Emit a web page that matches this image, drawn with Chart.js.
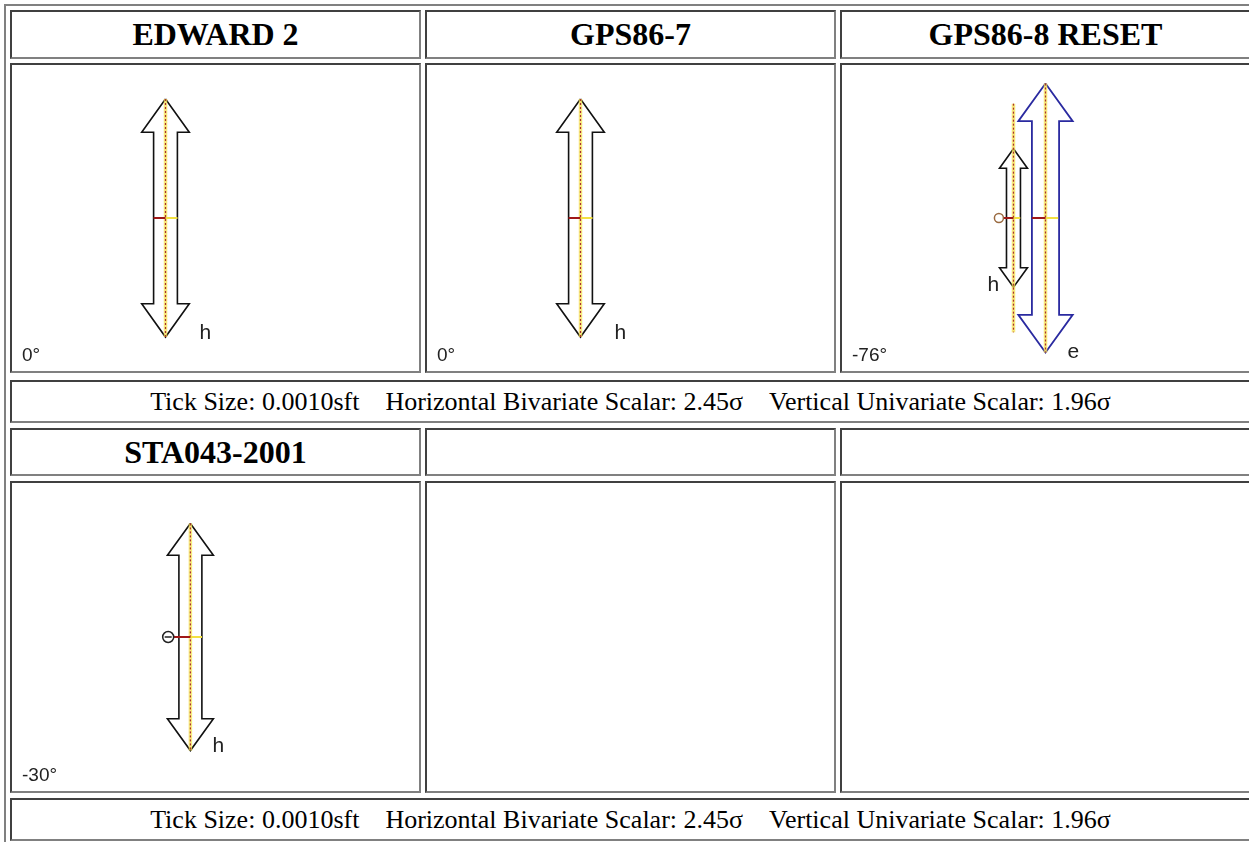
<!DOCTYPE html>
<html>
<head>
<meta charset="utf-8">
<script src="https://cdn.jsdelivr.net/npm/chart.js@4.4.1/dist/chart.umd.min.js"></script>
<style>
body { margin: 0; background: #fff; width: 1249px; height: 842px; overflow: hidden; position: relative; }
.frame { position: absolute; left: 4px; top: 4px; width: 1300px; height: 900px; border-top: 2px solid #808080; border-left: 2px solid #808080; }
.cell { position: absolute; box-sizing: border-box; border: 2px solid; border-color: #404040 #808080 #808080 #404040; overflow: hidden; }
.head { font: bold 32px "Liberation Serif", "Times New Roman", serif; text-align: center; color: #000; }
.cap { font: 26px "Liberation Serif", "Times New Roman", serif; text-align: center; white-space: pre; color: #000; }
.ang { position: absolute; left: 10px; bottom: 5px; font: 19px "Liberation Sans", Arial, sans-serif; color: #222; }
canvas { position: absolute; left: 0; top: 0; }
</style>
</head>
<body>
<div class="frame"></div>
<script>
// Station plots (units = ticks on the plot)
const stations = ['EDWARD 2', 'GPS86-7', 'GPS86-8 RESET', 'STA043-2001'];
const azimuthLabels = ['0°', '0°', '-76°', '-30°'];

// 'h' bar: east offset, half length, trace half length, tick west / east
const hEast = [-50, -50, -33, -26];
const hHalf = [119, 119, 72, 119];
const traceHalf = [119, 119, 119, 119];
const hTickWest = [12, 12, 11, 17];
const hTickEast = [12, 12, 7, 12];

// 'e' bar (only GPS86-8 RESET)
const eEast = [null, null, 0, null];
const eHalf = [null, null, 140, null];
const eTickWest = [null, null, 14, null];
const eTickEast = [null, null, 13, null];

// position mark
const markEast = [null, null, -48, -49];

// caption values
const tickSize = '0.0010';
const horizScalar = '2.45';
const vertScalar = '1.96';

const colLeft = [10, 425, 840];
const colW = 411;

function addCell(left, top, w, h, cls, text) {
  const d = document.createElement('div');
  d.className = 'cell ' + (cls || '');
  d.style.left = left + 'px';
  d.style.top = top + 'px';
  d.style.width = w + 'px';
  d.style.height = h + 'px';
  if (text !== undefined) {
    d.textContent = text;
    d.style.lineHeight = (h - 4) + 'px';
  }
  document.body.appendChild(d);
  return d;
}

const caption = 'Tick Size: ' + tickSize + 'sft\u00a0\u00a0\u00a0\u00a0Horizontal Bivariate Scalar: ' +
  horizScalar + 'σ\u00a0\u00a0\u00a0\u00a0Vertical Univariate Scalar: ' + vertScalar + 'σ';

// group layout: header row, image row, caption row
const groups = [
  { headTop: 10, headH: 49, imgTop: 63, imgH: 310, capTop: 380, capH: 43, first: 0 },
  { headTop: 428, headH: 48, imgTop: 481, imgH: 312, capTop: 798, capH: 43, first: 3 }
];

function arrowOutline(cx, L) {
  const w = L * 0.1, W = L * 0.2, hl = L * 0.28;
  return [
    { x: cx, y: L }, { x: cx + W, y: L - hl }, { x: cx + w, y: L - hl },
    { x: cx + w, y: -L + hl }, { x: cx + W, y: -L + hl }, { x: cx, y: -L },
    { x: cx - W, y: -L + hl }, { x: cx - w, y: -L + hl }, { x: cx - w, y: L - hl },
    { x: cx - W, y: L - hl }, { x: cx, y: L }
  ];
}

function line(points, color, width, dash) {
  return {
    data: points, showLine: true, pointRadius: 0, borderColor: color,
    borderWidth: width, borderDash: dash || [], tension: 0, fill: false,
    borderJoinStyle: 'miter'
  };
}

const labelPlugin = {
  id: 'barLabels',
  afterDatasetsDraw(chart, args, opts) {
    const ctx = chart.ctx;
    const xs = chart.scales.x, ys = chart.scales.y;
    ctx.save();
    ctx.font = '21px "Liberation Sans", Arial, sans-serif';
    ctx.fillStyle = '#222';
    ctx.textBaseline = 'alphabetic';
    (opts.items || []).forEach(it => {
      ctx.fillText(it.text, xs.getPixelForValue(it.x) + it.dx, ys.getPixelForValue(it.y) + it.dy);
    });
    ctx.restore();
  }
};

// label shift relative to the lower tip of each bar
const hLabelShift = [[34, 2], [34, 2], [-26, 4], [22, 1]];
const eLabelShift = [null, null, [22, 5], null];

function makeChart(cell, i, W, H) {
  const cv = document.createElement('canvas');
  cv.width = W; cv.height = H;
  cell.appendChild(cv);
  const ds = [];
  const cx = hEast[i];
  // position mark (circle, with a bar inside for the offset station)
  if (markEast[i] !== null && i === 3) {
    ds.push({ data: [{ x: markEast[i], y: 0 }], pointStyle: 'line', pointRadius: 3.5,
      pointBorderColor: '#222', pointBorderWidth: 1.5, showLine: false });
  }
  if (markEast[i] !== null) {
    ds.push({ data: [{ x: markEast[i], y: 0 }], pointRadius: i === 3 ? 5.5 : 4.5,
      pointBorderColor: i === 3 ? '#222' : '#9a6a40', pointBackgroundColor: '#fff',
      pointBorderWidth: 1.5, showLine: false });
  }
  // ticks
  ds.push(line([{ x: cx - hTickWest[i], y: 0 }, { x: cx, y: 0 }], '#a01818', 2));
  ds.push(line([{ x: cx, y: 0 }, { x: cx + hTickEast[i], y: 0 }], '#f2e040', 2));
  if (eEast[i] !== null) {
    const ex = eEast[i];
    ds.push(line([{ x: ex - eTickWest[i], y: 0 }, { x: ex, y: 0 }], '#a01818', 2));
    ds.push(line([{ x: ex, y: 0 }, { x: ex + eTickEast[i], y: 0 }], '#f2e040', 2));
  }
  // traces
  ds.push(line([{ x: cx, y: traceHalf[i] }, { x: cx, y: -traceHalf[i] }], '#a83030', 1.2, [2, 2]));
  if (eEast[i] !== null) {
    ds.push(line([{ x: eEast[i], y: eHalf[i] }, { x: eEast[i], y: -eHalf[i] }], '#a83030', 1.2, [2, 2]));
  }
  ds.push(line([{ x: cx, y: traceHalf[i] }, { x: cx, y: -traceHalf[i] }], 'rgba(245,225,80,0.75)', 3.5));
  if (eEast[i] !== null) {
    ds.push(line([{ x: eEast[i], y: eHalf[i] }, { x: eEast[i], y: -eHalf[i] }], 'rgba(245,225,80,0.75)', 3.5));
  }
  // bars
  ds.push(line(arrowOutline(cx, hHalf[i]), '#111', 1.6));
  if (eEast[i] !== null) {
    ds.push(line(arrowOutline(eEast[i], eHalf[i]), '#2a2aa0', 1.8));
  }

  const items = [{ text: 'h', x: cx, y: -hHalf[i], dx: hLabelShift[i][0], dy: hLabelShift[i][1] }];
  if (eEast[i] !== null) {
    items.push({ text: 'e', x: eEast[i], y: -eHalf[i], dx: eLabelShift[i][0], dy: eLabelShift[i][1] });
  }

  new Chart(cv.getContext('2d'), {
    type: 'scatter',
    data: { datasets: ds },
    options: {
      responsive: false,
      animation: false,
      events: [],
      layout: { padding: 0 },
      plugins: { legend: { display: false }, tooltip: { enabled: false }, barLabels: { items } },
      scales: {
        x: { type: 'linear', display: false, min: -W / 2, max: W / 2 },
        y: { type: 'linear', display: false, min: -H / 2, max: H / 2 }
      }
    },
    plugins: [labelPlugin]
  });

  const a = document.createElement('div');
  a.className = 'ang';
  a.textContent = azimuthLabels[i];
  cell.appendChild(a);
}

groups.forEach(g => {
  for (let c = 0; c < 3; c++) {
    const i = g.first + c;
    const has = i < stations.length;
    addCell(colLeft[c], g.headTop, colW, g.headH, 'head', has ? stations[i] : '');
    const img = addCell(colLeft[c], g.imgTop, colW, g.imgH, '');
    if (has) makeChart(img, i, colW - 4, g.imgH - 4);
  }
  addCell(colLeft[0], g.capTop, 1241, g.capH, 'cap', caption);
});
</script>
</body>
</html>
